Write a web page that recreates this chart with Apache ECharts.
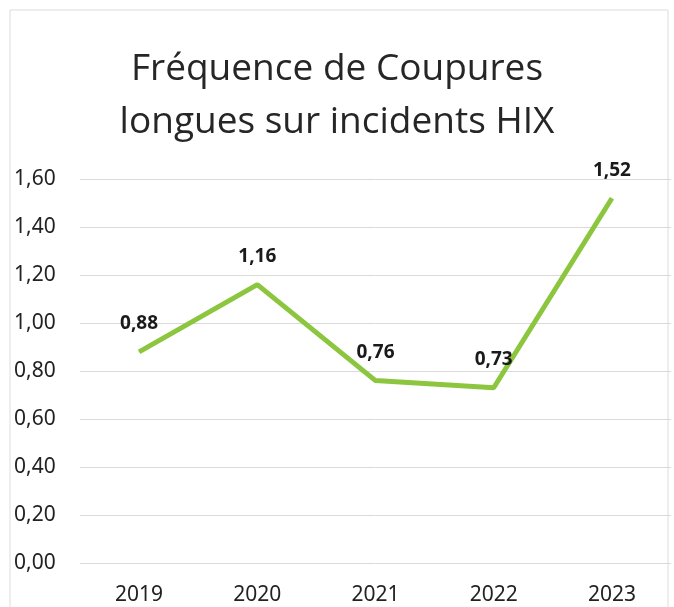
<!DOCTYPE html>
<html><head><meta charset="utf-8">
<script src="https://cdn.jsdelivr.net/npm/echarts@6/dist/echarts.min.js"></script>
<style>html,body{margin:0;padding:0;background:#fff}#c{width:674px;height:607px}</style>
</head><body><div id="c"></div>
<script>
const categories = ['2019','2020','2021','2022','2023'];
const values = [0.88, 1.16, 0.76, 0.73, 1.52];
const titleText = 'Fréquence de Coupures\nlongues sur incidents HIX';
const fmt = v => v.toFixed(2).replace('.', ',');

const chart = echarts.init(document.getElementById('c'));
chart.setOption({
  backgroundColor: '#fff',
  animation: false,
  graphic: [{type:'rect', shape:{x:10,y:10,width:658,height:600}, style:{fill:'none', stroke:'#dcdcdc', lineWidth:1}, silent:true}],
  title: {
    text: titleText, left: 'center', top: 38,
    textStyle: {fontFamily: 'Open Sans', fontSize: 37, fontWeight: 'normal', color: '#262626', lineHeight: 53}
  },
  grid: {left: 80, right: 3, top: 179, bottom: 44},
  xAxis: {
    type: 'category', data: categories,
    axisLine: {show: false}, axisTick: {show: false},
    axisLabel: {fontFamily: 'Noto Sans', fontSize: 21, color: '#222', margin: 22}
  },
  yAxis: {
    type: 'value', min: 0, max: 1.6, interval: 0.2,
    axisLine: {show: false}, axisTick: {show: false},
    splitLine: {lineStyle: {color: '#d9d9d9', width: 1}},
    axisLabel: {fontFamily: 'Noto Sans', fontSize: 21, color: '#222', align: 'left', margin: 66, formatter: fmt}
  },
  series: [{
    type: 'line', data: values, symbol: 'circle', symbolSize: 1, showSymbol: true,
    itemStyle: {color: '#8cc63e'},
    lineStyle: {color: '#8cc63e', width: 5},
    label: {show: true, position: 'top', distance: 18, formatter: p => fmt(p.value),
      fontFamily: 'Noto Sans', fontSize: 19, fontWeight: 'bold', color: '#1a1a1a'}
  }]
});
</script></body></html>
